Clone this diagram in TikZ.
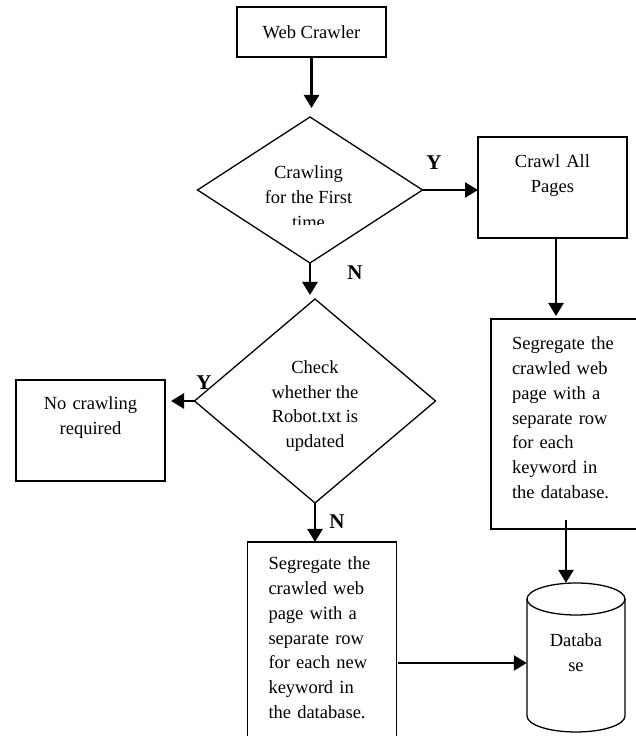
\documentclass[tikz,border=0pt]{standalone}
\usepackage{fontspec}
\setmainfont{Liberation Serif}
\usetikzlibrary{shapes.geometric,arrows.meta}

\begin{document}
\begin{tikzpicture}[x=1pt, y=1pt,
    txt/.style={font=\fontsize{18.5}{24.7}\selectfont},
    box/.style={txt, draw, line width=1.3pt, inner ysep=0pt, inner xsep=21pt, text width=107pt, outer sep=0pt},
    decision/.style={txt, draw, diamond, line width=1.3pt, inner sep=0pt, outer sep=0pt},
    lab/.style={font=\fontsize{21}{24}\selectfont\bfseries, inner sep=0pt},
    arr/.style={line width=2.6pt, -{Triangle[length=13pt, width=15pt]}}]
    \useasboundingbox (0,0) rectangle (636,736);
    \clip (0,0) rectangle (636,736);
    % Start
    \node[txt, draw, line width=1.3pt, minimum width=149pt, minimum height=50pt, inner sep=0pt] (web) at (311.5,704) {Web Crawler};
    % First decision
    \node[decision, minimum width=225pt, minimum height=146pt] (first) at (310,546) {};
    \begin{scope}
      \clip (200,511) rectangle (420,600);
      \node[txt, align=center, inner sep=0pt] (firsttext) at (308.5,539) {Crawling\\for the First\\time};
    \end{scope}
    % Second decision
    \node[decision, minimum width=241pt, minimum height=204pt] (check) at (315,335) {};
    \node[txt, align=center, inner sep=0pt] (checktext) at (315,330) {Check\\whether the\\Robot.txt is\\updated};
    % Boxes
    \node[box, align=center, text height=31pt, text depth=70pt, anchor=north] (crawl) at (552.5,599) {Crawl All\\Pages};
    \node[box, align=center, text height=30pt, text depth=71pt, anchor=north] (norobot) at (90.5,356) {No crawling\\required};
    \node[box, align=left, text width=108pt, text height=31pt, text depth=179pt, anchor=north west] (segall) at (491,417) {Segregate the\\crawled web\\page with a\\separate row\\for each\\keyword in\\the database.};
    \node[box, align=left, text height=28pt, text depth=227pt, anchor=north west] (segnew) at (247.5,194) {Segregate the\\crawled web\\page with a\\separate row\\for each new\\keyword in\\the database.};
    % Database
    \node[txt, align=center, minimum width=98pt, minimum height=139pt, inner sep=0pt] (db) at (576,83.5) {Databa\\se};
    \draw[line width=1.3pt] ([shift={(-49,53.5)}]db.center) -- ++(0,-117) arc[start angle=180, end angle=360, x radius=49, y radius=16] -- ++(0,117);
    \draw[line width=1.3pt] ([yshift=53.5pt]db.center) ellipse [x radius=49, y radius=16];
    % Connectors
    \draw[arr, shorten >=9pt] (web.south) -- (web.south |- first.north);
    \draw[arr] (first.east) -- (first.east -| crawl.west);
    \draw[arr, shorten >=3pt] ([xshift=3.5pt]crawl.south) -- ([xshift=3.5pt]crawl.south |- segall.north);
    \draw[arr, shorten >=4pt] (first.south) -- (first.south |- check.north);
    \draw[arr, shorten >=6pt] (check.west) -- (check.west -| norobot.east);
    \draw[arr] (check.south) -- (check.south |- segnew.north);
    \draw[arr, shorten <=-9pt] (segall.south) -- (segall.south |- db.north);
    \coordinate (dbin) at ([yshift=-10.5pt]db.west);
    \draw[arr] ([xshift=1.5pt]segnew.east |- dbin) -- (dbin);
    % Labels
    \node[lab] (yes1) at (434,573) {Y};
    \node[lab] (no1) at (355,463) {N};
    \node[lab] (yes2) at (204,353) {Y};
    \node[lab] (no2) at (337,214) {N};
\end{tikzpicture}
\end{document}
